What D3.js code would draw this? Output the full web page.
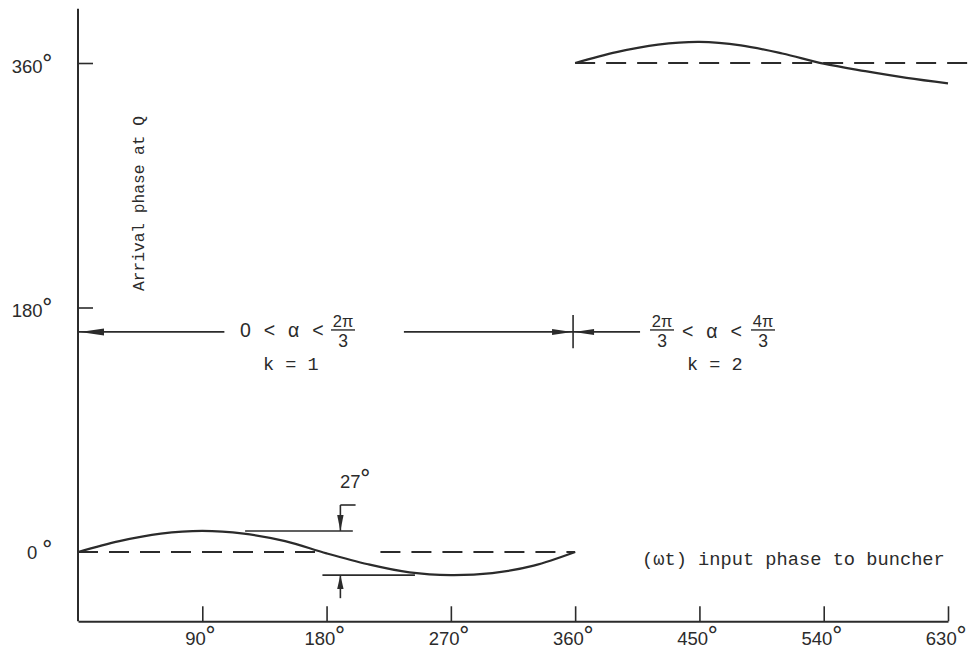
<!DOCTYPE html>
<html><head><meta charset="utf-8">
<script src="https://cdn.jsdelivr.net/npm/d3@7"></script>
<style>body{margin:0;background:#fff}svg{display:block}</style>
</head><body><svg id="c" width="968" height="652"></svg>
<script>
// ---- data (degrees) ----
const xTicks = [90, 180, 270, 360, 450, 540, 630];
const yTicks = [0, 180, 360];
// k = 1 branch: input phase (wt) vs arrival phase at Q
const phase1   = [0, 30, 60, 90, 120, 150, 180, 210, 240, 270, 300, 330, 360];
const arrival1 = [0, 8, 13.5, 15.5, 13.5, 8, -1, -9, -15, -17, -15.5, -10, 0];
// k = 2 branch
const phase2   = [360, 390, 420, 450, 480, 510, 540, 570, 600, 630];
const arrival2 = [360, 368, 373.5, 375.5, 373, 367, 359.5, 354, 349, 345];
// dashed reference levels: [level, from, to]
const refLines = [[0, 0, 177], [0, 219, 360], [360, 360, 645]];

const ink = "#2b2b2b";
const svg = d3.select("#c");
svg.append("rect").attr("width", 968).attr("height", 652).attr("fill", "#fff");

const x = d3.scaleLinear().domain([0, 630]).range([78, 948]);
const y = d3.scaleLinear().domain([0, 360]).range([552, 63]);

const sans = "'Liberation Sans', Arial, sans-serif";
const mono = "'Liberation Mono', 'Courier New', monospace";
const degFont = "'DejaVu Sans', sans-serif";

function deg(sel, dy) {
  sel.append("tspan").attr("font-family", degFont).attr("font-size", 23)
    .attr("dx", -1).attr("dy", dy).text("°");
}

// ---- y axis ----
svg.append("line").attr("x1", x(0)).attr("x2", x(0))
  .attr("y1", y(400)).attr("y2", y(-51))
  .attr("stroke", ink).attr("stroke-width", 2);

const yAxis = svg.append("g").attr("transform", `translate(${x(0)},0)`)
  .call(d3.axisLeft(y).tickValues(yTicks).tickSize(-15).tickSizeOuter(0).tickPadding(25)
    .tickFormat(d => d === 0 ? "0\u00a0" : String(d)));
yAxis.select(".domain").remove();
yAxis.selectAll(".tick line").attr("stroke", ink).attr("stroke-width", 1.6)
  .attr("opacity", d => d === 0 ? 0 : 1);
yAxis.selectAll(".tick text")
  .attr("font-family", sans).attr("font-size", 18.5).attr("fill", ink)
  .attr("dy", d => d === 0 ? "0.33em" : "0.49em")
  .call(deg, -2);

// ---- x axis ----
const xAxis = svg.append("g").attr("transform", `translate(0,${y(-51)})`)
  .call(d3.axisBottom(x).tickValues(xTicks).tickSize(-15).tickSizeOuter(0).tickPadding(11)
    .tickFormat(d => String(d)));
xAxis.select(".domain").attr("stroke", ink).attr("stroke-width", 2);
xAxis.selectAll(".tick line").attr("stroke", ink).attr("stroke-width", 1.6);
xAxis.selectAll(".tick text")
  .attr("font-family", sans).attr("font-size", 18.5).attr("fill", ink).attr("dx", -2)
  .call(deg, -2);

// ---- dashed reference lines ----
svg.append("g").selectAll("line").data(refLines).join("line")
  .attr("x1", d => x(d[1])).attr("x2", d => x(d[2]))
  .attr("y1", d => y(d[0])).attr("y2", d => y(d[0]))
  .attr("stroke", ink).attr("stroke-width", 1.8).attr("stroke-dasharray", "20,11");

// ---- curves ----
const line = d3.line().x(d => x(d[0])).y(d => y(d[1])).curve(d3.curveCatmullRom.alpha(0.5));
svg.append("path").datum(phase1.map((p, i) => [p, arrival1[i]]))
  .attr("d", line).attr("fill", "none").attr("stroke", ink).attr("stroke-width", 2.2);
svg.append("path").datum(phase2.map((p, i) => [p, arrival2[i]]))
  .attr("d", line).attr("fill", "none").attr("stroke", ink).attr("stroke-width", 2.2);

// ---- helpers ----
function seg(x1, y1, x2, y2, w) {
  svg.append("line").attr("x1", x1).attr("y1", y1).attr("x2", x2).attr("y2", y2)
    .attr("stroke", ink).attr("stroke-width", w || 1.6);
}
function arrow(tx, ty, dx, dy, len, hw) {
  const bx = tx - dx * len, by = ty - dy * len;
  const px = -dy * hw, py = dx * hw;
  svg.append("path")
    .attr("d", `M${tx},${ty}L${bx + px},${by + py}L${bx - px},${by - py}Z`)
    .attr("fill", ink);
}
function txt(s, px, py, size, fam, anchor) {
  return svg.append("text").attr("x", px).attr("y", py)
    .attr("font-size", size).attr("font-family", fam).attr("fill", ink)
    .attr("text-anchor", anchor || "start").text(s);
}
function frac(num, cx, barY) {
  txt(num, cx, barY - 3, 16.5, sans, "middle");
  seg(cx - 12, barY, cx + 12, barY, 1.4);
  txt("3", cx, barY + 17, 17.5, sans, "middle");
}

// ---- k = 1 annotation ----
const yA = y(162);
seg(x(0), yA, x(106), yA, 1.8);
arrow(x(0) + 2, yA, -1, 0, 24, 3.5);
txt("0 < α <", 240, yA + 5, 19.5, sans).attr("word-spacing", 7.5);
frac("2π", 343, yA - 2);
txt("k = 1", 263, yA + 38, 18.5, mono);

// ---- k = 2 annotation ----
const xm = x(358.5);
seg(x(236), yA, x(407), yA, 1.8);
seg(xm, y(174.5), xm, y(150), 1.6);
arrow(xm - 1, yA, 1, 0, 20, 3);
arrow(xm + 1, yA, -1, 0, 20, 3);
frac("2π", 662, yA - 2);
txt("< α <", 682, yA + 6, 19.5, sans).attr("word-spacing", 7.5);
frac("4π", 763, yA - 2);
txt("k = 2", 687, yA + 38, 18.5, mono);

// ---- 27° amplitude annotation ----
const xa = x(190);
seg(x(121), y(15.5), x(199), y(15.5), 1.6);
seg(xa, y(34.6), xa, y(15.5), 1.6);
seg(xa, y(34.6), x(201), y(34.6), 1.6);
arrow(xa, y(15.5), 0, 1, 16, 3.2);
seg(x(177), y(-17), x(244), y(-17), 1.6);
seg(xa, y(-34), xa, y(-17), 1.6);
arrow(xa, y(-17), 0, -1, 14, 3.2);
txt("27", 340, 488, 18.5, sans).call(deg, -2);

// ---- axis titles ----
svg.append("text").attr("transform", `translate(144,${(117 + 290) / 2}) rotate(-90)`)
  .attr("text-anchor", "middle").attr("font-family", mono).attr("font-size", 16.2)
  .attr("fill", ink).text("Arrival phase at Q");
txt("(ωt) input phase to buncher", 642, 565, 18.7, mono);
</script>
</body></html>
